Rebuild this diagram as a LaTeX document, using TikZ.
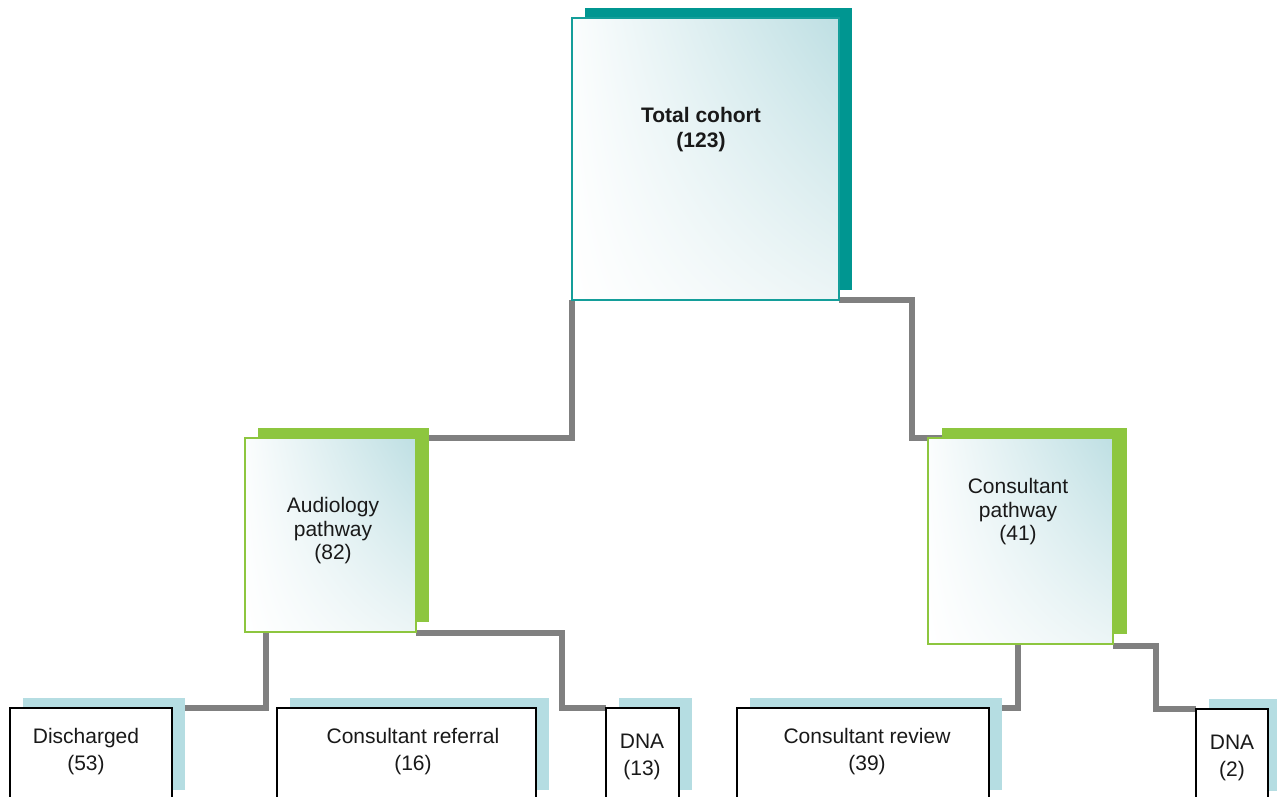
\documentclass[tikz,border=0pt]{standalone}
\usepackage{fontspec}
\setmainfont{Liberation Sans}
\usetikzlibrary{calc,shadings}
\pgfdeclarelayer{paper}
\pgfdeclarelayer{bg}
\pgfdeclarelayer{sh}
\pgfsetlayers{paper,bg,sh,main}
\definecolor{tealdark}{RGB}{0,150,145}
\definecolor{tealline}{RGB}{20,158,154}
\definecolor{leaf}{RGB}{141,198,63}
\definecolor{paleblue}{RGB}{181,221,226}
\definecolor{conngray}{RGB}{128,128,128}
\definecolor{glow}{RGB}{190,223,227}
\definecolor{glowsoft}{RGB}{236,245,246}
\definecolor{inkc}{RGB}{25,25,25}
\tikzset{
  gradbox/.style={rectangle, inner sep=0pt, outer sep=0pt, line width=2pt,
    upper left=white!94!glow, upper right=glow, lower left=white, lower right=glowsoft, shade},
  topbox/.style={gradbox, draw=tealline},
  midbox/.style={gradbox, draw=leaf},
  leafbox/.style={rectangle, inner sep=0pt, outer sep=0pt, line width=2.4pt, draw=black, fill=white},
  conn/.style={draw=conngray, line width=6pt, line join=miter},
  lbl/.style={align=center, text=inkc, inner sep=0pt, font=\fontsize{21}{25}\selectfont},
  lblmid/.style={align=center, text=inkc, inner sep=0pt, font=\fontsize{21}{23.5}\selectfont},
  lblleaf/.style={align=center, text=inkc, inner sep=0pt, font=\fontsize{21}{27}\selectfont},
}
\begin{document}
\begin{tikzpicture}[x=1pt,y=-1pt]
\useasboundingbox (0,0) rectangle (1277,796);
\begin{pgfonlayer}{paper}
\fill[white] (0,0) rectangle (1277,796);
\end{pgfonlayer}
% boxes
\node[topbox, minimum width=267pt, minimum height=282pt] (tc) at (705.5,159) {};
\node[midbox, minimum width=171pt, minimum height=194pt] (ap) at (330.5,535) {};
\node[midbox, minimum width=185pt, minimum height=206pt] (cp) at (1020.5,541) {};
\node[leafbox, minimum width=162pt, minimum height=92pt] (d) at (91,754) {};
\node[leafbox, minimum width=259pt, minimum height=92pt] (cr) at (406.5,754) {};
\node[leafbox, minimum width=73pt, minimum height=92pt] (dna1) at (642.5,754) {};
\node[leafbox, minimum width=252pt, minimum height=92pt] (crv) at (863,754) {};
\node[leafbox, minimum width=72pt, minimum height=92pt] (dna2) at (1232,755) {};
% texts
\node[lbl, font=\fontsize{21}{25}\selectfont\bfseries] (tct) at (701,130) {Total cohort\\(123)};
\node[lblmid] (apt) at (333,531) {Audiology\\pathway\\(82)};
\node[lblmid] (cpt) at (1018,512) {Consultant\\pathway\\(41)};
\node[lblleaf] (dt) at (86,752) {Discharged\\(53)};
\node[lblleaf] (crt) at (413,752) {Consultant referral\\(16)};
\node[lblleaf] (dna1t) at (642,757) {DNA\\(13)};
\node[lblleaf] (crvt) at (867,752) {Consultant review\\(39)};
\node[lblleaf] (dna2t) at (1232,758) {DNA\\(2)};
% shadows
\begin{pgfonlayer}{sh}
\fill[tealdark] ($(tc.south west)+(13,-10)$) rectangle ($(tc.north east)+(13,-10)$);
\fill[leaf] ($(ap.south west)+(13,-10)$) rectangle ($(ap.north east)+(13,-10)$);
\fill[leaf] ($(cp.south west)+(14,-10)$) rectangle ($(cp.north east)+(14,-10)$);
\foreach \n in {d,cr,dna1,crv,dna2}{
  \fill[paleblue] ($(\n.south west)+(13,-10)$) rectangle ($(\n.north east)+(13,-10)$);
}
\end{pgfonlayer}
% connectors
\begin{pgfonlayer}{bg}
\draw[conn] (tc.south west) |- ($(ap.north east)+(13,0)$);
\draw[conn] (tc.south east) -- ++(73,0) |- ($(cp.north west)+(14,0)$);
\draw[conn] ($(ap.south west)+(21,0)$) |- ($(d.north east)+(13,0)$);
\draw[conn] ($(ap.south east)+(0,1)$) -- ++(146,0) |- (dna1.north west);
\draw[conn] ($(cp.south)+(-2.5,0)$) |- ($(crv.north east)+(13,0)$);
\draw[conn] ($(cp.south east)+(0,2)$) -- ++(43,0) |- (dna2.north west);
\end{pgfonlayer}
\end{tikzpicture}
\end{document}
